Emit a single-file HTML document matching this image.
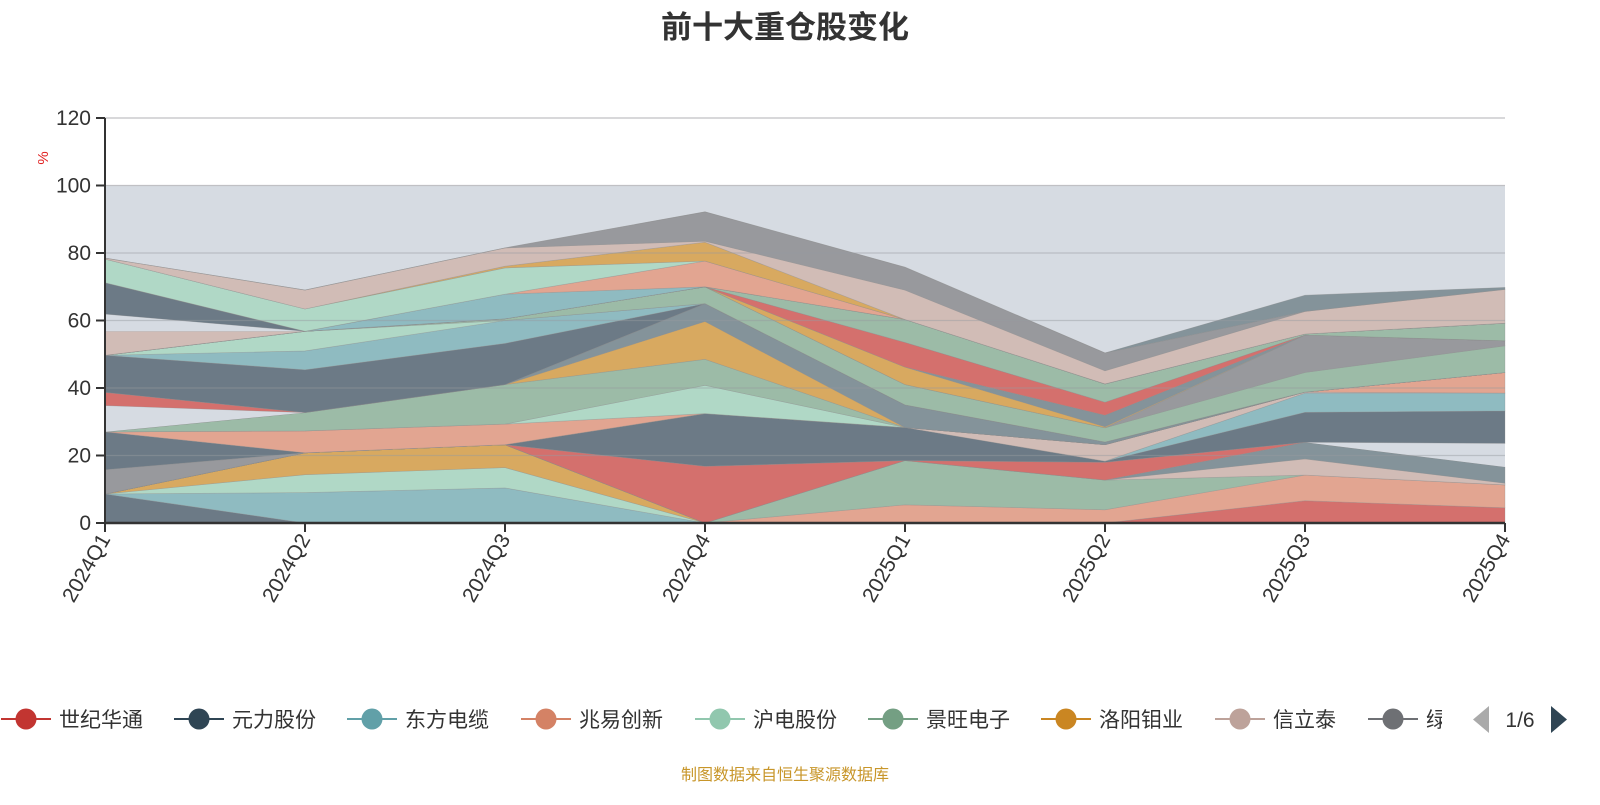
<!DOCTYPE html>
<html><head><meta charset="utf-8"><style>
html,body{margin:0;padding:0;background:#fff;}
body{width:1600px;height:800px;overflow:hidden;font-family:"Liberation Sans","Noto Sans CJK SC",sans-serif;}
svg text{font-family:"Liberation Sans","Noto Sans CJK SC",sans-serif;}
</style></head><body>
<svg id="chart" width="1600" height="800" xmlns="http://www.w3.org/2000/svg">
<text x="785" y="38" text-anchor="middle" font-size="31" font-weight="bold" fill="#333">前十大重仓股变化</text>
<g id="plot"></g>
<g id="axes"></g>
<g id="legend"></g>
<text transform="translate(48,158) rotate(-90)" text-anchor="middle" font-size="15" fill="#e02020">%</text>
<text x="785" y="780" text-anchor="middle" font-size="16" fill="#c8962a">制图数据来自恒生聚源数据库</text>
</svg>
<script>
const categories = ['2024Q1','2024Q2','2024Q3','2024Q4','2025Q1','2025Q2','2025Q3','2025Q4'];
const yTicks = [0,20,40,60,80,100,120];
const legendNames = ['世纪华通','元力股份','东方电缆','兆易创新','沪电股份','景旺电子','洛阳钼业','信立泰','绿的'];
const legendColors = ['#c23531','#2f4554','#61a0a8','#d48265','#91c7ae','#749f83','#ca8622','#bda29a','#6e7074'];
// stacked layers, bottom to top
const layerNames = ['dark_a','teal_a','lgreen_b','orange_a','red_d','salmon_c','sage_c','pink_d','slate_c','red_b','gap_c','dark_e','teal_d','pink_c','salmon_d','gray_a','dark_b','salmon_a','lgreen_d','sage_a','orange_c','slate_a','gap_a','red_a','dark_c','teal_b','lgreen_c','sage_b','gray_b','orange_d','slate_b','red_c','sage_d','pink_a','gap_b','dark_d','teal_c','salmon_b','lgreen_a','orange_b','pink_b','gray_top','slate_top'];
const dark_a=[8.6,0,0,0,0,0,0,0];
const teal_a=[0,9,10.4,0,0,0,0,0];
const lgreen_b=[0,5.3,6,0,0,0,0,0];
const orange_a=[0,6.5,6.8,0,0,0,0,0];
const red_d=[0,0,0,0,0,0,6.6,4.5];
const salmon_c=[0,0,0,0,5.4,3.9,7.6,6.8];
const sage_c=[0,0,0,0,13.1,8.8,0,0];
const pink_d=[0,0,0,0,0,0,4.8,0.5];
const slate_c=[0,0,0,0,0,0,4.9,4.8];
const red_b=[0,0,0,16.8,0,5.3,0,0];
const gap_c=[0,0,0,0,0,0,0,7];
const dark_e=[0,0,0,15.6,9.8,0.3,8.9,9.6];
const teal_d=[0,0,0,0,0,0,5.7,5.3];
const pink_c=[0,0,0,0,0,4.9,0.3,0];
const salmon_d=[0,0,0,0,0,0,0,6.1];
const gray_a=[7.2,0,0,0,0,0,0,0];
const dark_b=[11.2,0,0,0,0,0,0,0];
const salmon_a=[0,6.5,6.1,0,0,0,0,0];
const lgreen_d=[0,0,0,8.4,0,0,0,0];
const sage_a=[0,5.4,11.7,7.7,0,0,0,0];
const orange_c=[0,0,0,11.2,0,0,0,0];
const slate_a=[0,0,0,5.3,6.7,0.8,0,0];
const gap_a=[7.8,0,0,0,0,0,0,0];
const red_a=[3.9,0,0,0,0,0,0,0];
const dark_c=[11,12.7,12.2,0,0,0,0,0];
const teal_b=[0,5.6,6.8,0,0,0,0,0];
const lgreen_c=[0,5.8,0,0,0,0,0,0];
const sage_b=[0,0,0.5,5,6,4.2,5.8,7.9];
const gray_b=[0,0,0,0,0,0,11.1,1.5];
const orange_d=[0,0,0,0,5.2,0.3,0,0];
const slate_b=[0,0,0,0,0,3.4,0,0];
const red_c=[0,0,0,0,7.3,3.9,0,0];
const sage_d=[0,0,0,0,6.8,5.4,0.3,5.2];
const pink_a=[7.1,0,0,0,0,0,0,0];
const gap_b=[5.1,0,0,0,0,0,0,0];
const dark_d=[9.3,0,0,0,0,0,0,0];
const teal_c=[0,0,7.3,0,0,0,0,0];
const salmon_b=[0,0,0,7.6,0,0,0,0];
const lgreen_a=[7,6.6,7.8,0,0,0,0,0];
const orange_b=[0,0,0.5,5.6,0,0,0,0];
const pink_b=[0.3,5.6,5.4,0.3,8.7,3.9,6.7,10];
const gray_top=[0,0,0,8.7,6.8,5.3,0,0];
const slate_top=[0,0,0,0,0,0,4.8,0.6];
const layerValues=[dark_a,teal_a,lgreen_b,orange_a,red_d,salmon_c,sage_c,pink_d,slate_c,red_b,gap_c,dark_e,teal_d,pink_c,salmon_d,gray_a,dark_b,salmon_a,lgreen_d,sage_a,orange_c,slate_a,gap_a,red_a,dark_c,teal_b,lgreen_c,sage_b,gray_b,orange_d,slate_b,red_c,sage_d,pink_a,gap_b,dark_d,teal_c,salmon_b,lgreen_a,orange_b,pink_b,gray_top,slate_top];

const palette={dark:'#6c7a86',teal:'#8fbbc1',lgreen:'#b0d8c6',orange:'#d8a960',red:'#d4706d',salmon:'#e2a591',sage:'#9cbba7',pink:'#d1bcb6',slate:'#84939a',gray:'#98999d',gap:'#d6dbe2'};
const NS='http://www.w3.org/2000/svg';
const X0=105,X1=1505,Y0=523,Ytop=118,YMAX=120;
function xScale(i){return X0+(X1-X0)*i/(categories.length-1);}
function yScale(v){return Y0-(Y0-Ytop)*v/YMAX;}
function mk(tag,attrs,parent){const e=document.createElementNS(NS,tag);for(const k in attrs)e.setAttribute(k,attrs[k]);parent.appendChild(e);return e;}
const plot=document.getElementById('plot'),axes=document.getElementById('axes'),legend=document.getElementById('legend');

// band 0-100
const band=mk('rect',{x:X0,y:yScale(100),width:X1-X0,height:yScale(0)-yScale(100),fill:'#d6dbe2'},plot);



// stacked areas
let base=categories.map(()=>0);
layerValues.forEach((vals,li)=>{
  const top=base.map((b,i)=>b+vals[i]);
  let pts=[];
  for(let i=0;i<categories.length;i++)pts.push(xScale(i).toFixed(1)+','+yScale(top[i]).toFixed(1));
  for(let i=categories.length-1;i>=0;i--)pts.push(xScale(i).toFixed(1)+','+yScale(base[i]).toFixed(1));
  const key=layerNames[li].split('_')[0];
  const p=mk('polygon',{points:pts.join(' '),fill:palette[key],stroke:key==='gap'?'none':'rgba(140,140,140,0.45)','stroke-width':0.6},plot);
  
  
  base=top;
});

// gridlines & y labels
yTicks.forEach(t=>{
  const y=yScale(t);
  if(t>0){const g=mk('line',{x1:X0,x2:X1,y1:y,y2:y,stroke:t===100||t===120?'#c0c0c4':'rgba(150,155,160,0.45)','stroke-width':1.2},axes);
  
  }
  const tk=mk('line',{x1:X0-9,x2:X0,y1:y,y2:y,stroke:'#333','stroke-width':2},axes);
  
  
  const tx=mk('text',{x:X0-14,y:y+7,'text-anchor':'end','font-size':21,fill:'#333'},axes);
  tx.textContent=t;
  
  
});
const ya=mk('line',{x1:X0,x2:X0,y1:Ytop,y2:Y0,stroke:'#333','stroke-width':2},axes);


const xa=mk('line',{x1:X0,x2:X1,y1:Y0,y2:Y0,stroke:'#333','stroke-width':2.5},axes);


categories.forEach((c,i)=>{
  const x=xScale(i);
  const tk=mk('line',{x1:x,x2:x,y1:Y0,y2:Y0+9,stroke:'#333','stroke-width':2},axes);
  
  
  const tx=mk('text',{transform:'translate('+(x+6)+','+(Y0+16)+') rotate(-60)','text-anchor':'end','font-size':21,fill:'#333'},axes);
  tx.textContent=c;
  
  
});

// legend
const legendX=[26,199,372,546,720,893,1066,1240,1393];
const clip=mk('clipPath',{id:'lgclip'},legend);
mk('rect',{x:0,y:690,width:1442,height:60},clip);
const lg=mk('g',{'clip-path':'url(#lgclip)'},legend);
legendNames.forEach((n,i)=>{
  const cx=legendX[i];
  const g=mk('g',{},lg);
  
  
  mk('line',{x1:cx-25,x2:cx+25,y1:719,y2:719,stroke:legendColors[i],'stroke-width':2},g);
  mk('circle',{cx:cx,cy:719,r:10.5,fill:legendColors[i]},g);
  const t=mk('text',{x:cx+33,y:727,'font-size':21,fill:'#333'},g);
  t.textContent=n;
});
const prev=mk('polygon',{points:'1489,706 1489,733 1473,719.5',fill:'#aaa'},legend);


const pg=mk('text',{x:1520,y:727,'text-anchor':'middle','font-size':21,fill:'#333'},legend);
pg.textContent='1/6';


const next=mk('polygon',{points:'1551,706 1551,733 1567,719.5',fill:'#2f4554'},legend);


</script>
</body></html>
